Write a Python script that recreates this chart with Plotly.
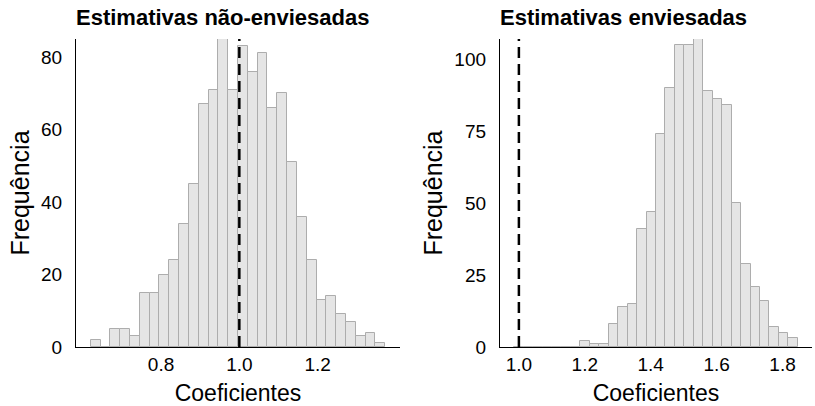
import numpy as np
import plotly.graph_objects as go

# Histogram counts of 1000 simulated coefficients, 30 equal-width bins each
unbiased_counts = [2, 0, 5, 5, 3, 15, 15, 20, 24, 34, 45, 67, 71, 85, 71,
                   83, 76, 81, 66, 70, 51, 36, 24, 13, 14, 9, 7, 3, 4, 1]
unbiased_span = (0.6204, 1.3728)   # outer edges of the first and last bin

biased_counts = [0, 0, 0, 0, 0, 0, 0, 2, 1, 1, 8, 14, 15, 41, 47,
                 74, 90, 105, 105, 107, 89, 86, 84, 50, 29, 21, 16, 7, 5, 3]
biased_span = (0.9857, 1.8463)

true_value = 1.0

titles = ["Estimativas não-enviesadas", "Estimativas enviesadas"]
x_title = "Coeficientes"
y_title = "Frequência"
x_ticks = [[0.8, 1.0, 1.2], [1.0, 1.2, 1.4, 1.6, 1.8]]
y_ticks = [[0, 20, 40, 60, 80], [0, 25, 50, 75, 100]]

W, H = 815, 406
FONT = "Liberation Sans, Arial, sans-serif"
FILL = "#E5E5E5"
EDGE = "#ADADAD"

# plot-area pixel boxes (left, right) and shared (top, bottom)
px_x = [(76, 400), (500, 812)]
px_top, px_bottom = 39, 347


def bins(counts, span):
    lo, hi = span
    n = len(counts)
    width = (hi - lo) / n
    centers = lo + width * (np.arange(n) + 0.5)
    pad = 0.05 * (hi - lo)
    return centers, width, [lo - pad, hi + pad]


fig = go.Figure()
panels = [(unbiased_counts, unbiased_span), (biased_counts, biased_span)]

for i, (counts, span) in enumerate(panels):
    centers, width, xr = bins(counts, span)
    suffix = "" if i == 0 else str(i + 1)
    fig.add_trace(go.Bar(
        x=centers, y=counts, width=width,
        marker=dict(color=FILL, line=dict(color=EDGE, width=1)),
        xaxis="x" + suffix, yaxis="y" + suffix, showlegend=False,
    ))
    x0, x1 = px_x[i]
    fig.update_layout(**{
        "xaxis" + suffix: dict(
            domain=[x0 / W, x1 / W], range=xr, anchor="y" + suffix,
            automargin=False,
            showline=True, linecolor="black", linewidth=1.3,
            showgrid=False, zeroline=False, ticks="",
            tickvals=x_ticks[i], tickformat=".1f",
            tickfont=dict(family=FONT, size=19, color="black"),
            ticklabelstandoff=0,
            title=dict(text=x_title, standoff=12,
                       font=dict(family=FONT, size=23, color="black")),
        ),
        "yaxis" + suffix: dict(
            domain=[1 - px_bottom / H, 1 - px_top / H],
            range=[0, max(counts)], anchor="x" + suffix,
            automargin=False,
            showline=True, linecolor="black", linewidth=1.3,
            showgrid=False, zeroline=False, ticks="",
            tickvals=y_ticks[i],
            tickfont=dict(family=FONT, size=19, color="black"),
            ticklabelstandoff=9,
            title=dict(text=y_title, standoff=4,
                       font=dict(family=FONT, size=25, color="black")),
        ),
    })
    # reference line at the true coefficient
    fig.add_shape(type="line", xref="x" + suffix, yref="y" + suffix + " domain",
                  x0=true_value, x1=true_value, y0=0, y1=1,
                  line=dict(color="black", width=2.5, dash="11px,6px"))
    fig.add_annotation(text="<b>" + titles[i] + "</b>", xref="paper", yref="paper",
                       x=(x0 - 2) / W, y=1 - 17 / H, xanchor="left", yanchor="middle",
                       showarrow=False,
                       font=dict(family=FONT, size=22, color="black"))

fig.update_layout(
    width=W, height=H,
    margin=dict(l=0, r=0, t=0, b=0),
    paper_bgcolor="white", plot_bgcolor="white",
    bargap=0,
)

fig.write_html("out.html")
